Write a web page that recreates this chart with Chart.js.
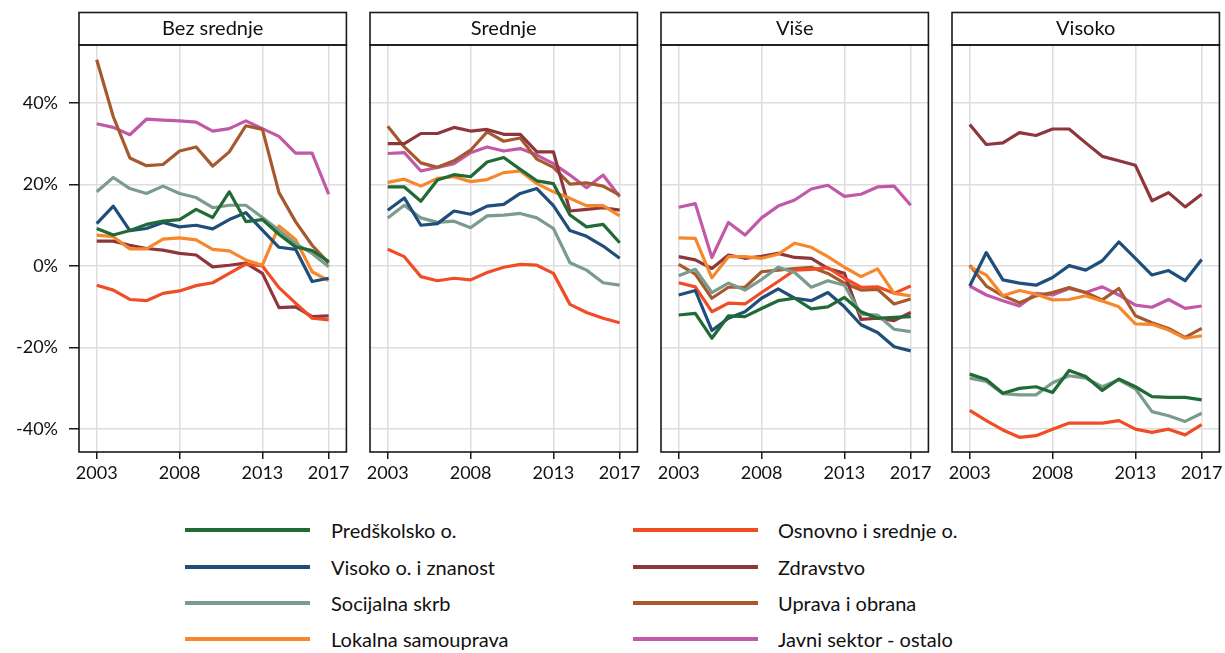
<!DOCTYPE html>
<html><head><meta charset="utf-8">
<script src="https://cdn.jsdelivr.net/npm/chart.js@4.4.1/dist/chart.umd.min.js"></script>
<style>
html,body{margin:0;padding:0;background:#fff;overflow:hidden;}
#wrap{position:relative;width:1225px;height:653px;font-family:Lato, "Open Sans", sans-serif;}
canvas{position:absolute;top:0;}
.leg{position:absolute;height:24px;line-height:24px;font-size:20px;color:#111;white-space:nowrap;}
.ln{position:absolute;height:4px;}
</style></head><body><div id="wrap"></div>
<script>
const years = [2003,2004,2005,2006,2007,2008,2009,2010,2011,2012,2013,2014,2015,2016,2017];
const xTicks = [2003,2008,2013,2017];
const yTicks = [-40,-20,0,20,40];
const panelNames = ['Bez srednje','Srednje','Više','Visoko'];
const seriesNames = ['Predškolsko o.','Visoko o. i znanost','Socijalna skrb','Lokalna samouprava','Osnovno i srednje o.','Zdravstvo','Uprava i obrana','Javni sektor - ostalo'];
const colors = ['#1f6a35','#1f4e7a','#7b9c8c','#f6872a','#f04d26','#8f363d','#a6592d','#c259a8'];

// rows in seriesNames order
const bezSrednje = [
 [9.2,7.6,8.7,10.2,11.0,11.4,13.9,11.9,18.2,10.9,11.4,7.8,4.7,3.8,1.1],
 [10.4,14.7,8.7,9.2,10.7,9.6,10.0,9.1,11.4,13.1,8.8,4.6,4.1,-3.8,-3.0],
 [18.2,21.7,19.0,17.8,19.6,17.8,16.8,14.3,14.9,14.9,11.9,8.8,5.5,3.1,-0.2],
 [7.6,7.2,4.2,4.2,6.6,6.9,6.4,4.1,3.7,1.5,0.2,9.8,6.5,-1.4,-3.6],
 [-4.7,-5.9,-8.2,-8.5,-6.7,-6.1,-4.8,-4.1,-1.8,0.5,0.0,-5.3,-9.1,-12.8,-13.2],
 [6.1,6.1,5.1,4.3,3.9,3.1,2.7,-0.2,0.2,0.7,-1.8,-10.2,-10.0,-12.4,-12.2],
 [50.6,36.6,26.5,24.6,24.9,28.2,29.2,24.5,28.0,34.4,33.5,18.0,10.9,5.1,0.7],
 [34.9,34.0,32.2,36.0,35.8,35.6,35.3,33.1,33.7,35.6,33.7,31.8,27.7,27.7,17.6]
];
const srednje = [
 [19.4,19.4,15.9,21.1,22.4,21.9,25.5,26.6,23.7,20.9,20.2,12.5,9.6,10.2,5.7],
 [13.7,16.7,10.0,10.4,13.5,12.7,14.7,15.1,17.8,19.0,14.8,8.7,7.3,4.9,1.9],
 [11.8,14.9,11.8,10.7,11.0,9.4,12.3,12.5,12.9,11.8,9.2,0.8,-1.0,-4.1,-4.7],
 [20.5,21.3,19.6,21.5,21.9,20.7,21.2,22.9,23.3,20.2,18.2,16.6,14.8,14.8,12.3],
 [4.1,2.3,-2.6,-3.6,-3.0,-3.4,-1.6,-0.3,0.4,0.2,-1.8,-9.4,-11.4,-12.8,-13.9],
 [30.0,30.0,32.5,32.5,34.0,33.1,33.5,32.3,32.3,28.0,28.0,13.5,13.9,14.3,13.7],
 [34.3,29.2,25.3,24.2,25.8,28.4,32.9,30.6,31.4,26.2,24.2,20.1,20.4,19.6,17.4],
 [27.6,27.8,23.3,24.2,25.1,27.8,29.2,28.2,28.8,27.2,25.1,22.3,19.2,22.3,17.0]
];
const vise = [
 [-12.0,-11.6,-17.7,-12.2,-12.4,-10.4,-8.5,-7.9,-10.5,-10.0,-7.7,-11.2,-12.8,-12.6,-12.4],
 [-7.1,-6.0,-15.8,-12.8,-11.2,-7.9,-5.6,-7.9,-8.5,-6.5,-10.0,-14.4,-16.3,-19.8,-20.8],
 [-2.4,-0.8,-6.5,-4.2,-5.9,-3.3,-0.3,-1.6,-5.2,-3.6,-4.7,-11.8,-12.0,-15.5,-16.1],
 [6.9,6.8,-2.9,2.3,2.3,1.9,2.9,5.6,4.6,2.3,-0.3,-2.6,-0.7,-6.7,-7.3],
 [-4.1,-5.1,-11.2,-9.1,-9.3,-6.5,-3.8,-1.0,-0.8,-0.4,-3.0,-5.2,-5.1,-6.7,-4.9],
 [2.3,1.5,-0.6,2.7,1.9,2.4,3.1,2.1,1.9,-0.6,-1.8,-13.1,-12.8,-13.4,-11.4],
 [0.4,-2.0,-7.9,-5.2,-5.2,-1.4,-1.0,-0.6,-0.3,-1.8,-4.2,-5.9,-5.7,-9.3,-8.1],
 [14.4,15.3,2.1,10.7,7.6,11.8,14.7,16.2,18.9,19.8,17.1,17.6,19.4,19.6,14.9]
];
const visoko = [
 [-26.5,-27.8,-31.2,-30.0,-29.6,-31.0,-25.6,-27.1,-30.5,-27.7,-29.6,-32.0,-32.2,-32.2,-32.8],
 [-4.9,3.3,-3.4,-4.2,-4.7,-2.8,0.1,-1.0,1.3,5.9,1.9,-2.2,-1.1,-3.6,1.6],
 [-27.5,-28.3,-31.3,-31.6,-31.6,-28.6,-26.9,-27.5,-29.6,-27.9,-30.1,-35.7,-36.7,-38.1,-36.1],
 [-0.2,-2.2,-7.3,-6.0,-6.9,-8.3,-8.2,-7.3,-8.6,-10.0,-14.2,-14.3,-15.7,-17.7,-17.1],
 [-35.4,-37.9,-40.2,-42.0,-41.6,-40.0,-38.5,-38.5,-38.5,-37.9,-40.0,-40.8,-40.0,-41.4,-38.9],
 [34.7,29.8,30.2,32.7,32.0,33.6,33.6,30.2,26.9,25.8,24.7,16.0,18.0,14.5,17.6],
 [0.2,-4.9,-7.3,-9.0,-7.3,-6.5,-5.3,-6.5,-8.3,-5.5,-12.2,-13.9,-15.3,-17.5,-15.3],
 [-4.9,-7.1,-8.5,-9.8,-6.7,-7.1,-5.5,-6.5,-5.1,-7.1,-9.6,-10.1,-8.2,-10.4,-9.8]
];
const panelData = [bezSrednje, srednje, vise, visoko];

const FONT = 'Lato, "Open Sans", sans-serif';
const plotLefts = [79, 370, 661, 952];
const wrap = document.getElementById('wrap');

const framePlugin = {
  id: 'frame',
  afterDraw(chart) {
    const a = chart.chartArea, c = chart.ctx;
    c.save();
    c.strokeStyle = '#1a1a1a';
    c.lineWidth = 1.6;
    c.strokeRect(a.left, a.top, a.right - a.left, a.bottom - a.top);
    c.strokeRect(a.left, 12.5, a.right - a.left, a.top - 12.5);
    c.restore();
  }
};

panelData.forEach((rows, i) => {
  const cv = document.createElement('canvas');
  cv.width = 353; cv.height = 500;
  cv.style.left = (plotLefts[i] - 79) + 'px';
  cv.style.width = '353px'; cv.style.height = '500px';
  wrap.appendChild(cv);
  new Chart(cv, {
    type: 'line',
    data: {
      datasets: seriesNames.map((n, k) => ({
        label: n,
        data: years.map((yr, j) => ({x: yr, y: rows[k][j]})),
        borderColor: colors[k], backgroundColor: colors[k],
        borderWidth: 3.2, pointRadius: 0, tension: 0,
        borderJoinStyle: 'round', fill: false
      }))
    },
    options: {
      responsive: false, animation: false, devicePixelRatio: 1,
      layout: {padding: {top: 12, right: 6, left: 0, bottom: 0}},
      plugins: {
        legend: {display: false}, tooltip: {enabled: false},
        title: {display: true, text: panelNames[i], fullSize: false, padding: 0,
          color: '#111', font: {family: FONT, size: 20, weight: 'normal', lineHeight: 33/20}}
      },
      scales: {
        x: {
          type: 'linear', min: 2001.93, max: 2018.07,
          afterBuildTicks: s => { s.ticks = xTicks.map(v => ({value: v})); },
          afterFit: s => { s.height = 48; },
          ticks: {callback: v => String(v), color: '#111', padding: 3, maxRotation: 0, autoSkip: false,
            font: {family: FONT, size: 18}},
          grid: {color: '#dedede', lineWidth: 1.5, tickColor: '#1a1a1a', tickLength: 7, tickWidth: 1.5},
          border: {display: false}
        },
        y: {
          min: -45.6, max: 54.2,
          afterBuildTicks: s => { s.ticks = yTicks.map(v => ({value: v})); },
          afterFit: s => { s.width = 79; },
          ticks: {display: i === 0, callback: v => v + '%', color: '#111', padding: 11,
            font: {family: FONT, size: 18}},
          grid: {color: '#dedede', lineWidth: 1.5, tickColor: '#1a1a1a', tickLength: 10, tickWidth: 1.5, drawTicks: i === 0},
          border: {display: false}
        }
      }
    },
    plugins: [framePlugin]
  });
});

// legend (two columns, 4 rows)
const legCols = [{line: 185, text: 331}, {line: 633, text: 778}];
const legRows = [530, 567, 603, 639];
seriesNames.forEach((n, k) => {
  const col = legCols[Math.floor(k / 4)], rowY = legRows[k % 4];
  const ln = document.createElement('div');
  ln.className = 'ln';
  ln.style.left = col.line + 'px'; ln.style.width = '125px';
  ln.style.top = (rowY - 2) + 'px'; ln.style.background = colors[k];
  wrap.appendChild(ln);
  const t = document.createElement('div');
  t.className = 'leg';
  t.style.left = col.text + 'px'; t.style.top = (rowY - 12) + 'px';
  t.textContent = n;
  wrap.appendChild(t);
});
</script></body></html>
